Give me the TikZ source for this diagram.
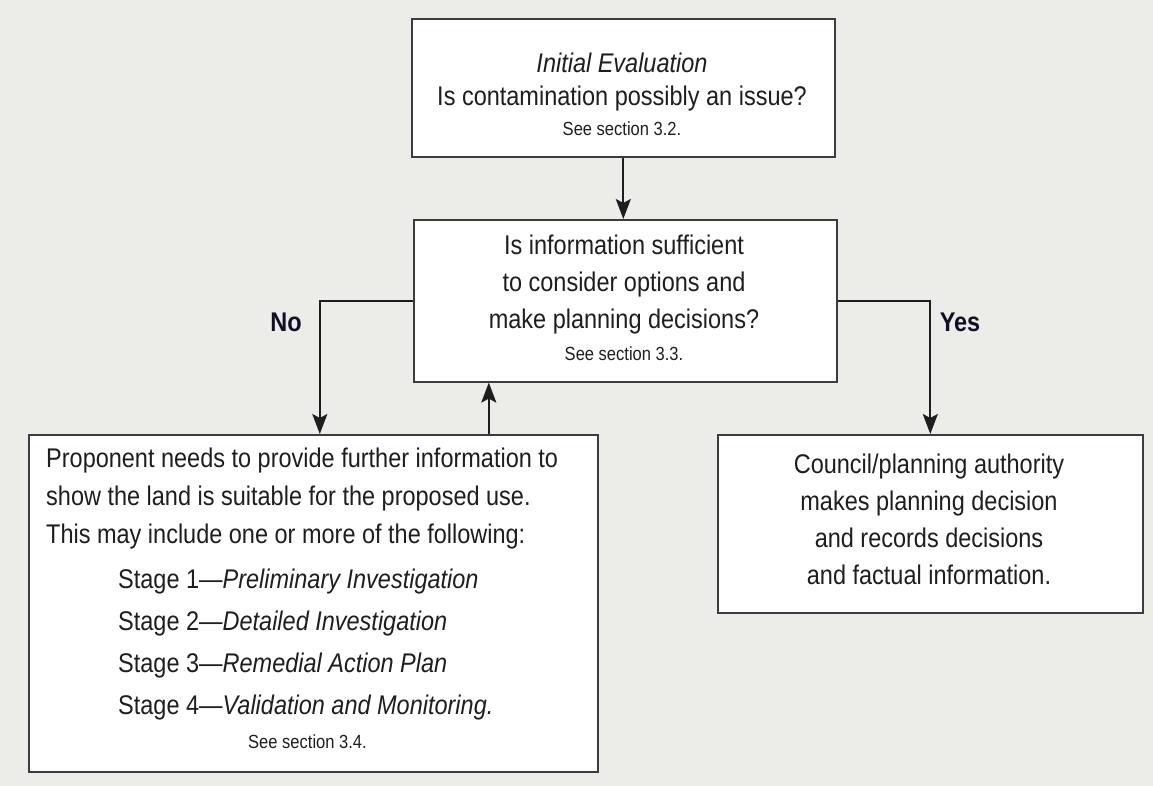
\documentclass[tikz,border=0pt]{standalone}
\usepackage{fontspec}
\setmainfont[FakeStretch=0.87]{Liberation Sans}
\usetikzlibrary{arrows.meta}
\definecolor{bg}{RGB}{236,236,233}
\definecolor{ink}{RGB}{30,30,30}
\definecolor{edge}{RGB}{60,60,60}
\tikzset{
  box/.style={draw=edge, line width=1.6pt, fill=white, anchor=north west, inner sep=0pt},
  txt/.style={text=ink, align=center, inner sep=0pt, font=\fontsize{27}{36}\selectfont},
  lab/.style={text=ink!85!blue!60!black, inner sep=0pt, font=\fontsize{27}{30}\selectfont\bfseries},
  conn/.style={draw=ink, line width=2.2pt, -{Stealth[length=20pt,width=15pt,inset=4pt]}},
}
\newcommand{\smalltxt}{\fontsize{19}{22}\selectfont}
\begin{document}
\begin{tikzpicture}[x=1pt,y=1pt]
\fill[bg] (0,0) rectangle (1153,-786);
\useasboundingbox (0,0) rectangle (1153,-786);

% boxes
\node[box, minimum width=423, minimum height=138] (b1) at (411,-18) {};
\node[box, minimum width=423, minimum height=162] (b2) at (413,-219) {};
\node[box, minimum width=569, minimum height=337] (b3) at (28,-434) {};
\node[box, minimum width=425, minimum height=178] (b4) at (717,-434) {};

% texts
\node[txt, font=\fontsize{27}{33}\selectfont] (t1) at (622,-94)
  {\textit{Initial Evaluation}\\Is contamination possibly an issue?\\[-3pt]{\smalltxt See section 3.2.}};
\node[txt, font=\fontsize{27}{37}\selectfont] (t2) at (624,-298)
  {Is information sufficient\\to consider options and\\make planning decisions?\\[-5pt]{\smalltxt See section 3.3.}};
\node[txt, align=left, anchor=north west, font=\fontsize{27}{38}\selectfont] (t3) at (46,-448)
  {Proponent needs to provide further information to\\
   show the land is suitable for the proposed use.\\
   This may include one or more of the following:\\[7pt]
   \hspace*{72pt}Stage 1—\textit{Preliminary Investigation}\\[4pt]
   \hspace*{72pt}Stage 2—\textit{Detailed Investigation}\\[4pt]
   \hspace*{72pt}Stage 3—\textit{Remedial Action Plan}\\[4pt]
   \hspace*{72pt}Stage 4—\textit{Validation and Monitoring.}\\[-4pt]
   \hspace*{202pt}{\smalltxt See section 3.4.}};
\node[txt, font=\fontsize{27}{37}\selectfont] (t4) at (929,-519)
  {Council/planning authority\\makes planning decision\\and records decisions\\and factual information.};

% connectors
\draw[conn] (b1.south) -- (b1.south |- b2.north);
\draw[conn] (b2.west) -| ([xshift=6.5pt]b3.north);
\draw[conn] (b2.east) -| (b4.north);
\coordinate (up) at ([xshift=175.5pt]b3.north);
\draw[conn] (up) -- (up |- b2.south);

% labels
\node[lab] (no) at (286,-322) {No};
\node[lab] (yes) at (960,-322) {Yes};
\end{tikzpicture}
\end{document}
